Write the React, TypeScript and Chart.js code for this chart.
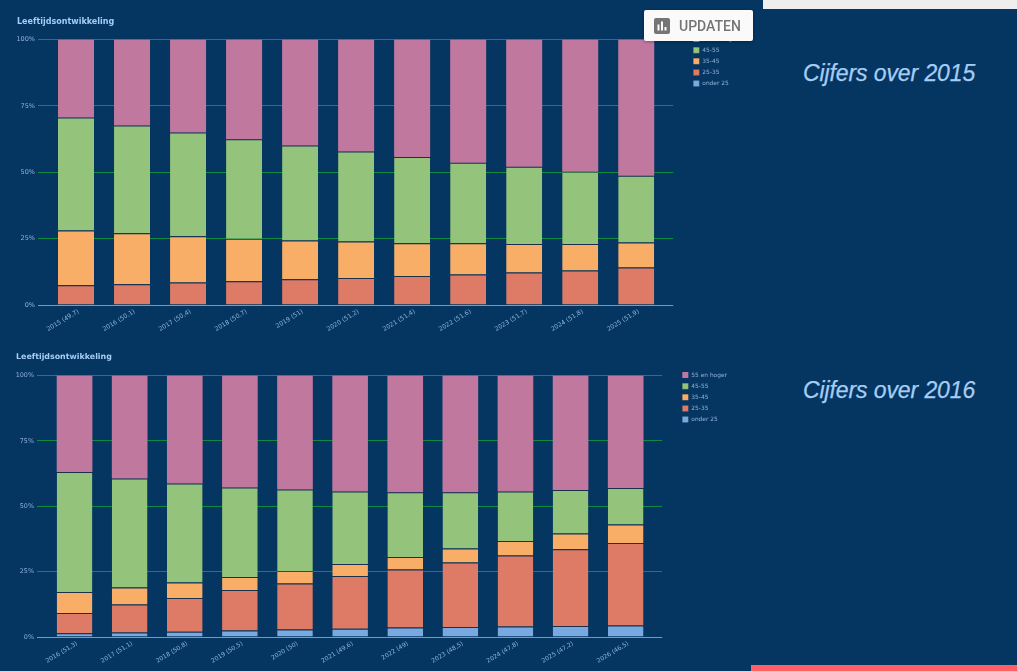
import React, { useEffect, useRef } from "react";
import { Chart, registerables } from "chart.js";

Chart.register(...registerables);

const labels2015 = ["2015 (49,7)", "2016 (50,1)", "2017 (50,4)", "2018 (50,7)", "2019 (51)", "2020 (51,2)", "2021 (51,4)", "2022 (51,6)", "2023 (51,7)", "2024 (51,8)", "2025 (51,9)"];
const under25A = [0, 0, 0, 0, 0, 0, 0, 0, 0, 0, 0];
const r25A = [7.4, 7.8, 8.5, 8.9, 9.7, 10.2, 10.9, 11.5, 12.2, 13, 14.1];
const r35A = [20.7, 19.2, 17.4, 16.1, 14.6, 13.7, 12.4, 11.8, 10.8, 10, 9.4];
const r45A = [42.5, 40.6, 39.1, 37.4, 35.8, 33.9, 32.4, 30.3, 29.1, 27.2, 25.2];
const r55A = [29.4, 32.4, 35, 37.6, 39.9, 42.2, 44.3, 46.4, 47.9, 49.8, 51.3];

const labels2016 = ["2016 (51,3)", "2017 (51,1)", "2018 (50,8)", "2019 (50,5)", "2020 (50)", "2021 (49,6)", "2022 (49)", "2023 (48,5)", "2024 (47,8)", "2025 (47,2)", "2026 (46,5)"];
const under25B = [1.4, 1.7, 2, 2.5, 2.9, 3.2, 3.6, 3.8, 4, 4.2, 4.4];
const r25B = [7.8, 10.7, 12.9, 15.5, 17.6, 20.1, 22.2, 24.7, 27.2, 29.4, 31.5];
const r35B = [8, 6.5, 5.9, 4.9, 4.7, 4.6, 4.8, 5.3, 5.5, 6, 7.1];
const r45B = [45.9, 41.7, 37.9, 34.3, 31.2, 27.7, 24.8, 21.6, 18.9, 16.6, 14];
const r55B = [36.9, 39.4, 41.3, 42.8, 43.6, 44.4, 44.6, 44.6, 44.4, 43.8, 43];

const seriesNames = ["onder 25", "25-35", "35-45", "45-55", "55 en hoger"];
const seriesColors = ["#78a9e0", "#dd7b66", "#f8ae66", "#94c37b", "#c0789f"];
const chartTitle = "Leeftijdsontwikkeling";
const yTicks = [0, 25, 50, 75, 100];

const BG = "#043661";
const GRID = "#0f8a42";
const ZERO = "#7c98b8";
const TICK = "#8fb2d9";
const FONT = "'DejaVu Sans', sans-serif";
const gridColors = [ZERO, GRID, GRID, GRID, GRID];

function makeChart(
  canvas: HTMLCanvasElement,
  labels: string[],
  values: number[][],
  o: { left: number; y2: number; xh: number; titleSize: number; tick: number; xTick: number; titleTop: number; titleBottom: number; bar: number; legendTop: number }
) {
  return new Chart(canvas, {
    type: "bar",
    data: {
      labels,
      datasets: values.map((v, i) => ({
        label: seriesNames[i],
        data: v,
        backgroundColor: seriesColors[i],
        borderColor: "rgba(50,40,50,0.5)",
        borderWidth: i === 4 ? 0 : { top: 1, left: 0, right: 0, bottom: 0 },
        borderSkipped: false,
        categoryPercentage: 1,
        barPercentage: o.bar,
      })),
    },
    options: {
      responsive: false,
      animation: false,
      devicePixelRatio: 1,
      layout: { padding: 0 },
      scales: {
        x: {
          stacked: true,
          grid: { display: false, drawTicks: false },
          border: { display: true, color: ZERO, width: 1 },
          ticks: { color: TICK, font: { family: FONT, size: o.xTick }, minRotation: 31, maxRotation: 31, autoSkip: false, padding: 3, labelOffset: 2.5 },
          afterFit: (s: any) => { s.height = o.xh; },
        },
        y: {
          stacked: true,
          min: 0,
          max: 100,
          afterBuildTicks: (s: any) => { s.ticks = yTicks.map((value) => ({ value })); },
          grid: { color: gridColors, tickLength: 10, lineWidth: 1 },
          border: { display: false },
          ticks: { color: TICK, font: { family: FONT, size: o.tick }, padding: 3, callback: (v: any) => v + "%" },
          afterFit: (s: any) => { s.width = o.left; },
        },
        y2: {
          position: "right",
          min: 0,
          max: 100,
          afterBuildTicks: (s: any) => { s.ticks = yTicks.map((value) => ({ value })); },
          grid: { drawOnChartArea: false, color: gridColors, tickLength: 9 },
          border: { display: false },
          ticks: { callback: () => "", font: { size: 1 } },
          afterFit: (s: any) => { s.width = o.y2; },
        },
      },
      plugins: {
        title: {
          display: true,
          text: chartTitle,
          align: "start",
          color: "#a6cdf4",
          font: { family: FONT, size: o.titleSize, weight: "bold", lineHeight: 1 },
          padding: { top: o.titleTop, bottom: o.titleBottom },
        },
        legend: {
          display: true,
          position: "right",
          align: "start",
          reverse: true,
          title: { display: true, text: " ", font: { size: 1, lineHeight: 1 }, padding: { top: o.legendTop, bottom: 0 } },
          labels: { color: TICK, boxWidth: 6, boxHeight: 6, padding: 5.1, font: { family: FONT, size: 5.9 } },
        },
        tooltip: { enabled: false },
      },
    } as any,
  });
}

const heading: React.CSSProperties = {
  position: "absolute",
  left: 803,
  fontFamily: "'Liberation Sans', sans-serif",
  fontStyle: "italic",
  fontSize: 23,
  letterSpacing: -0.1,
  color: "#a6cdf4",
  whiteSpace: "nowrap",
  WebkitTextStroke: "0.25px #a6cdf4",
};

export default function App() {
  const a = useRef<HTMLCanvasElement>(null);
  const b = useRef<HTMLCanvasElement>(null);

  useEffect(() => {
    const c1 = makeChart(a.current!, labels2015, [under25A, r25A, r35A, r45A, r55A], { left: 31, y2: 24, xh: 40, titleSize: 8, tick: 6.5, xTick: 6.2, titleTop: 7.5, titleBottom: 14, bar: 0.643, legendTop: 20 });
    const c2 = makeChart(b.current!, labels2016, [under25B, r25B, r35B, r45B, r55B], { left: 31, y2: 24, xh: 40, titleSize: 7.9, tick: 6.4, xTick: 6.1, titleTop: 11, titleBottom: 14.6, bar: 0.647, legendTop: 24 });
    return () => { c1.destroy(); c2.destroy(); };
  }, []);

  return (
    <div style={{ position: "fixed", inset: 0, background: BG, overflow: "hidden" }}>
      <canvas ref={a} width={731} height={335} style={{ position: "absolute", left: 17, top: 10, width: 731, height: 335, filter: "blur(0.35px)" }} />
      <canvas ref={b} width={721} height={335} style={{ position: "absolute", left: 16, top: 342, width: 721, height: 335, filter: "blur(0.35px)" }} />
      <div style={{ ...heading, top: 60 }}>Cijfers over 2015</div>
      <div style={{ ...heading, top: 377 }}>Cijfers over 2016</div>
      <div style={{ position: "absolute", left: 763, top: 0, width: 254, height: 9, background: "#eeeeee" }} />
      <div style={{ position: "absolute", left: 751, top: 665, width: 266, height: 6, background: "#ff6063" }} />
      <div style={{ position: "absolute", left: 644, top: 10, width: 109, height: 31, background: "#fafafa", borderRadius: 2, boxShadow: "0 1px 3px rgba(0,0,0,0.3)", display: "flex", alignItems: "center" }}>
        <svg width="16" height="16" viewBox="0 0 16 16" style={{ marginLeft: 10 }}>
          <rect width="16" height="16" rx="2" fill="#757575" />
          <rect x="3.5" y="6.5" width="2" height="6" fill="#fff" />
          <rect x="7" y="3.5" width="2" height="9" fill="#fff" />
          <rect x="10.5" y="9" width="2" height="3.5" fill="#fff" />
        </svg>
        <span style={{ marginLeft: 9, fontFamily: "Roboto, sans-serif", fontSize: 14, fontWeight: 500, color: "#757575" }}>UPDATEN</span>
      </div>
    </div>
  );
}
